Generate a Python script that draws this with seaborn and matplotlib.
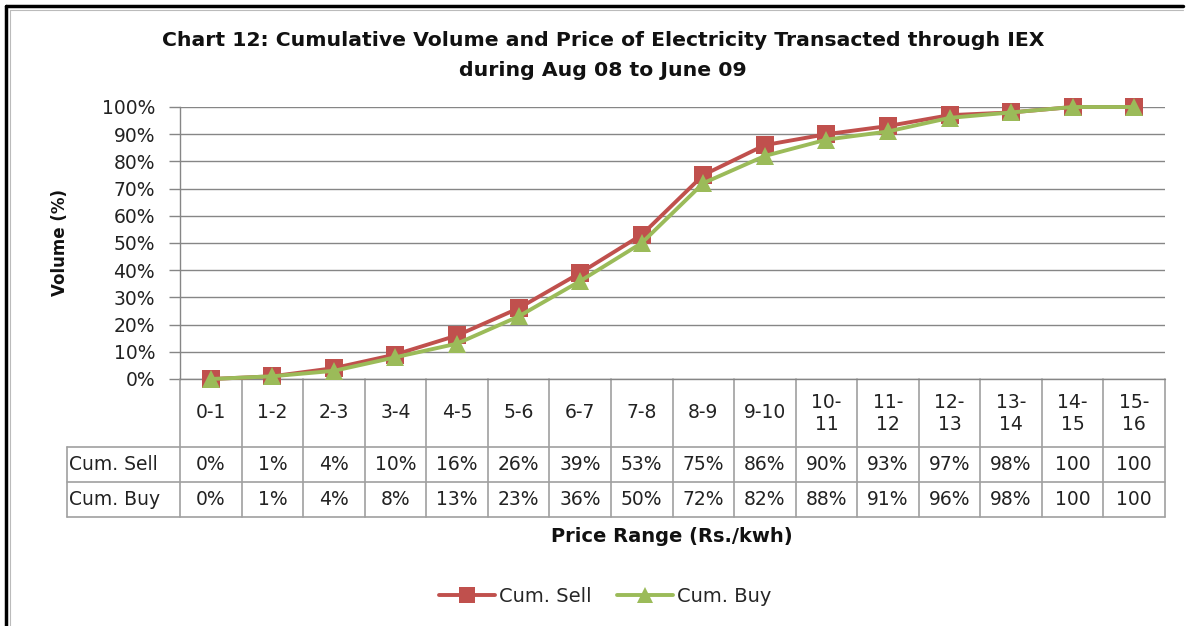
import matplotlib
matplotlib.use("Agg")
import matplotlib.pyplot as plt
import seaborn as sns
import pandas as pd
from matplotlib.lines import Line2D
import matplotlib.transforms as mtransforms

categories = ["0-1", "1-2", "2-3", "3-4", "4-5", "5-6", "6-7", "7-8",
              "8-9", "9-10", "10-\n11", "11-\n12", "12-\n13", "13-\n14", "14-\n15", "15-\n16"]
cum_sell = [0, 1, 4, 9, 16, 26, 39, 53, 75, 86, 90, 93, 97, 98, 100, 100]
cum_buy = [0, 1, 3, 8, 13, 23, 36, 50, 72, 82, 88, 91, 96, 98, 100, 100]
sell_labels = ["0%", "1%", "4%", "10%", "16%", "26%", "39%", "53%", "75%", "86%",
               "90%", "93%", "97%", "98%", "100", "100"]
buy_labels = ["0%", "1%", "4%", "8%", "13%", "23%", "36%", "50%", "72%", "82%",
              "88%", "91%", "96%", "98%", "100", "100"]
series_names = ["Cum. Sell", "Cum. Buy"]
yticks = [0, 10, 20, 30, 40, 50, 60, 70, 80, 90, 100]

RED = "#C0504D"
GREEN = "#9BBB59"
GRID = "#868686"

sns.set_theme(style="white")
plt.rcParams["font.family"] = ["DejaVu Sans"]

W, H = 1193, 626
fig = plt.figure(figsize=(W / 100, H / 100), dpi=100)
x0, x1, ytop, ybot = 180, 1165, 107, 379
ax = fig.add_axes([x0 / W, 1 - ybot / H, (x1 - x0) / W, (ybot - ytop) / H])

n = len(categories)
df = pd.DataFrame({
    "pos": list(range(n)) * 2,
    "value": cum_sell + cum_buy,
    "series": [series_names[0]] * n + [series_names[1]] * n,
})

sns.lineplot(data=df, x="pos", y="value", hue="series", style="series",
             palette={series_names[0]: RED, series_names[1]: GREEN},
             markers={series_names[0]: "s", series_names[1]: "^"},
             dashes=False, linewidth=2.8, markersize=13, markeredgewidth=0,
             ax=ax, legend=False, clip_on=False, zorder=3)

FS = 13.5
ax.set_xlim(-0.5, n - 0.5)
ax.set_ylim(0, 100)
ax.set_yticks(yticks)
ax.set_yticklabels([f"{v}%" for v in yticks], fontsize=FS, color="#222222")
ax.set_xticks([])
ax.set_xlabel("")
ax.set_ylabel("")
for v in yticks:
    ax.axhline(v, color=GRID, lw=1.0, zorder=1)
for s in ["top", "right", "bottom"]:
    ax.spines[s].set_visible(False)
ax.spines["left"].set_color(GRID)
ax.spines["left"].set_linewidth(1.0)
ax.tick_params(axis="y", length=8, color=GRID, width=1.0, pad=10, left=True)

# data table
tr = mtransforms.blended_transform_factory(ax.transData, ax.transAxes)
ph = ybot - ytop
r0 = 0.0
r1 = -(447 - ybot) / ph
r2 = -(482 - ybot) / ph
r3 = -(517 - ybot) / ph
left = -0.5 - (x0 - 67) / ((x1 - x0) / n)
lc = "#A0A0A0"
kw = dict(transform=tr, color=lc, lw=1.2, clip_on=False)
for y in [r1, r2, r3]:
    ax.add_line(Line2D([left, n - 0.5], [y, y], **kw))
for i in range(n + 1):
    ax.add_line(Line2D([i - 0.5, i - 0.5], [r0, r3], **kw))
ax.add_line(Line2D([left, left], [r1, r3], **kw))
ax.add_line(Line2D([-0.5, n - 0.5], [0, 0], transform=tr, color=GRID, lw=1.0, clip_on=False))

for i, c in enumerate(categories):
    ax.text(i, (r0 + r1) / 2, c, transform=tr, ha="center", va="center",
            fontsize=FS, color="#222222", linespacing=1.2)
    ax.text(i, (r1 + r2) / 2, sell_labels[i], transform=tr, ha="center", va="center",
            fontsize=FS, color="#222222")
    ax.text(i, (r2 + r3) / 2, buy_labels[i], transform=tr, ha="center", va="center",
            fontsize=FS, color="#222222")
for name, (a, b) in zip(series_names, [(r1, r2), (r2, r3)]):
    ax.text(left + 0.04, (a + b) / 2, name, transform=tr, ha="left", va="center",
            fontsize=FS, color="#222222")

# titles and labels
fig.text(603 / W, 1 - 40 / H, "Chart 12: Cumulative Volume and Price of Electricity Transacted through IEX",
         ha="center", va="center", fontsize=14.7, fontweight="bold", color="#111111")
fig.text(603 / W, 1 - 70 / H, "during Aug 08 to June 09",
         ha="center", va="center", fontsize=14.7, fontweight="bold", color="#111111")
fig.text(60 / W, 1 - 243 / H, "Volume (%)", rotation=90, ha="center", va="center",
         fontsize=12, fontweight="bold", color="#111111")
fig.text(672 / W, 1 - 537 / H, "Price Range (Rs./kwh)", ha="center", va="center",
         fontsize=14, fontweight="bold", color="#111111")

handles = [Line2D([], [], color=RED, lw=2.8, marker="s", markersize=12, markeredgewidth=0),
           Line2D([], [], color=GREEN, lw=2.8, marker="^", markersize=12, markeredgewidth=0)]
fig.legend(handles, series_names, loc="center", bbox_to_anchor=(605 / W, 1 - 596 / H),
           ncol=2, frameon=False, fontsize=14, handlelength=2.9, handletextpad=0.2,
           columnspacing=1.3)

# outer frame (top and left edges)
fig.add_artist(Line2D([6 / W, 6 / W], [0, 1 - 6 / H], transform=fig.transFigure, color="black", lw=2.5))
fig.add_artist(Line2D([6 / W, 1183 / W], [1 - 6 / H, 1 - 6 / H], transform=fig.transFigure, color="black", lw=2.5))
fig.add_artist(Line2D([10 / W, 10 / W], [0, 1 - 10 / H], transform=fig.transFigure, color="#BBBBBB", lw=0.8))
fig.add_artist(Line2D([10 / W, 1183 / W], [1 - 10 / H, 1 - 10 / H], transform=fig.transFigure, color="#BBBBBB", lw=0.8))

fig.savefig("out.png", dpi=100, facecolor="white")
